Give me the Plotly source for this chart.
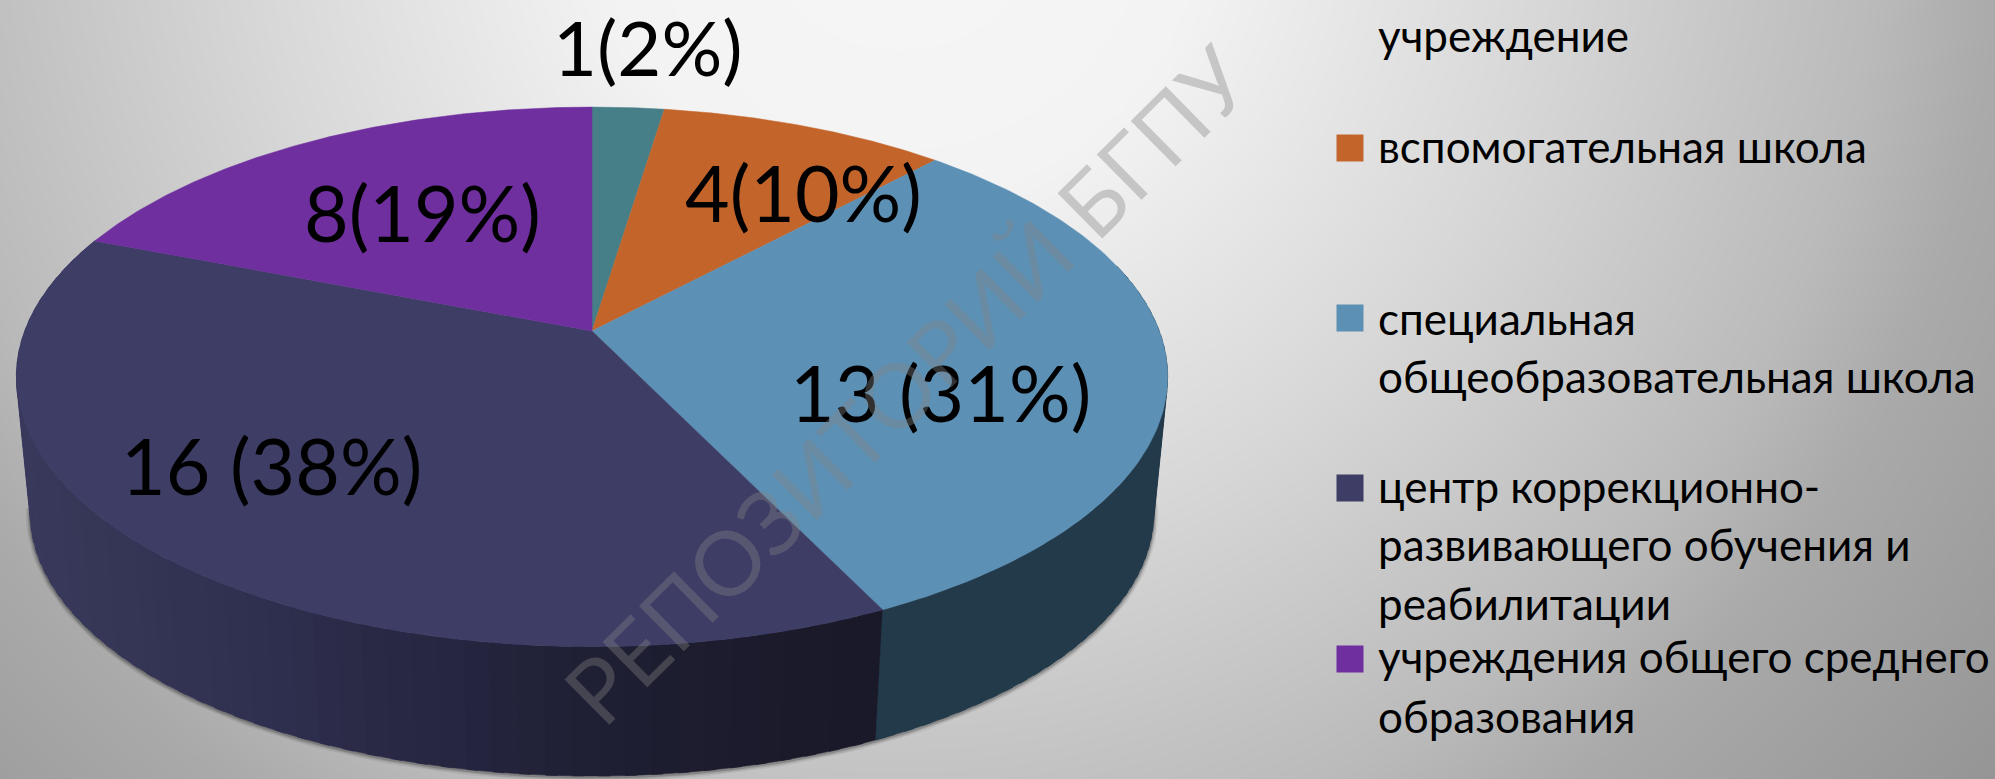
import numpy as np
import plotly.graph_objects as go

# ---- data ----
categories = ["учреждение", "вспомогательная школа", "специальная общеобразовательная школа",
              "центр коррекционно-развивающего обучения и реабилитации",
              "учреждения общего среднего образования"]
values = [1, 4, 13, 16, 8]
labels = ["1(2%)", "4(10%)", "13 (31%)", "16 (38%)", "8(19%)"]
top_colors = ["#467f87", "#c3652b", "#5c90b5", "#3d3d66", "#6f2f9e"]
label_xy = [(648, 46), (803, 192), (940, 392), (271, 465), (422, 212)]
legend_lines = [
    [("учреждение", 35)],
    [("вспомогательная школа", 146)],
    [("специальная", 318), ("общеобразовательная школа", 376)],
    [("центр коррекционно-", 486), ("развивающего обучения и", 544), ("реабилитации", 603)],
    [("учреждения общего среднего", 656), ("образования", 716)],
]
legend_marker_y = [None, 148, 318, 488, 659]

W, H = 1995, 779
CX, CY, RX, RY, K = 592.0, 331.0, 567.3, 262.0, 0.17
S, DY = 0.976, 137.0
FONT = "Lato"


def rim(theta_deg, bottom=False):
    t = np.radians(theta_deg)
    d = 1 + K * np.cos(t)
    x = RX * np.sin(t) / d
    y = -RY * np.cos(t) / d
    if bottom:
        return CX + S * x, CY + DY + S * y
    return CX + x, CY + y


edges = np.cumsum([0] + values) / sum(values) * 360.0

fig = go.Figure()

# background gradient
gx = np.linspace(0, W, 90)
gy = np.linspace(0, H, 36)
XX, YY = np.meshgrid(gx, gy)
dist = np.hypot(XX - 900, (YY + 100))
bg = np.interp(dist, [0, 300, 640, 980, 1100, 1400], [246, 243, 216, 186, 170, 149])
fig.add_trace(go.Heatmap(x=gx, y=gy, z=bg, zmin=0, zmax=255, zsmooth="best", showscale=False,
                         colorscale=[[0, "#000"], [1, "#fff"]], hoverinfo="skip"))

# soft shadow under the bottom rim
th = np.linspace(88, edges[4] - 30, 200)
sx, sy = rim(th, bottom=True)
for w, a in [(9, 0.06), (6, 0.10), (3, 0.18)]:
    fig.add_trace(go.Scatter(x=sx, y=sy + 1, mode="lines", line=dict(color=f"rgba(0,0,0,{a})", width=w),
                             hoverinfo="skip", showlegend=False))


def wall(t0, t1, color):
    th = np.linspace(t0, t1, 5)
    tx, ty = rim(th)
    bx, by = rim(th, bottom=True)
    c = color(bx.mean()) if callable(color) else color
    fig.add_trace(go.Scatter(x=np.r_[tx, bx[::-1]], y=np.r_[ty, by[::-1]], fill="toself", fillcolor=c,
                             mode="lines", line=dict(color=c, width=0.5), hoverinfo="skip", showlegend=False))


# side wall: each strip overlaps the next one so that no seam shows
grad_x = [20, 100, 300, 560, 700, 880]
grad_r = [58, 55, 46, 33, 29, 25]
grad_b = [94, 88, 78, 56, 47, 41]


def navy(x):
    r = np.interp(x, grad_x, grad_r)
    return "rgb(%d,%d,%d)" % (r, r, np.interp(x, grad_x, grad_b))


s = np.linspace(edges[4], edges[3], 61)
for i in range(60):
    wall(s[i], s[i + 1] - 1.0, navy)
s = np.linspace(75, edges[3], 41)
for i in range(40):
    wall(s[i], min(s[i + 1] + 1.0, edges[3]), "#233a4b")

# top face
for i, col in enumerate(top_colors):
    th = np.linspace(edges[i], edges[i + 1], 150)
    tx, ty = rim(th)
    fig.add_trace(go.Scatter(x=np.r_[CX, tx, CX], y=np.r_[CY, ty, CY], fill="toself", fillcolor=col, mode="lines",
                             line=dict(color=col, width=0.5), name=categories[i], hoverinfo="name", showlegend=False))

# legend swatches
for my, col in zip(legend_marker_y, top_colors):
    if my is None:
        continue
    fig.add_trace(go.Scatter(x=[1350], y=[my], mode="markers", marker=dict(symbol="square", size=27, color=col),
                             hoverinfo="skip", showlegend=False))

ann = []
for txt, (x, y) in zip(labels, label_xy):
    ann.append(dict(x=x, y=y, text=txt, showarrow=False, xanchor="center", yanchor="middle",
                    font=dict(family=FONT, size=76 if y < 100 else 77, color="#000000")))
for group in legend_lines:
    for txt, y in group:
        ann.append(dict(x=1376, y=y, text=txt, showarrow=False, xanchor="left", yanchor="middle",
                        font=dict(family=FONT, size=44, color="#000000")))
ann.append(dict(x=905, y=384, text="РЕПОЗИТОРИЙ БГПУ", showarrow=False, textangle=-44.6, xanchor="center",
                yanchor="middle", font=dict(family=FONT, size=89, color="rgba(131,131,131,0.38)")))

fig.update_layout(
    width=W, height=H, autosize=False, margin=dict(l=0, r=0, t=0, b=0), showlegend=False,
    paper_bgcolor="#dddddd", plot_bgcolor="#dddddd", annotations=ann,
    xaxis=dict(range=[0, W], visible=False, fixedrange=True),
    yaxis=dict(range=[H, 0], visible=False, fixedrange=True),
)
fig.write_html("out.html", config={"displayModeBar": False},
               post_script="document.body.style.margin='0';document.body.style.overflow='hidden';")
